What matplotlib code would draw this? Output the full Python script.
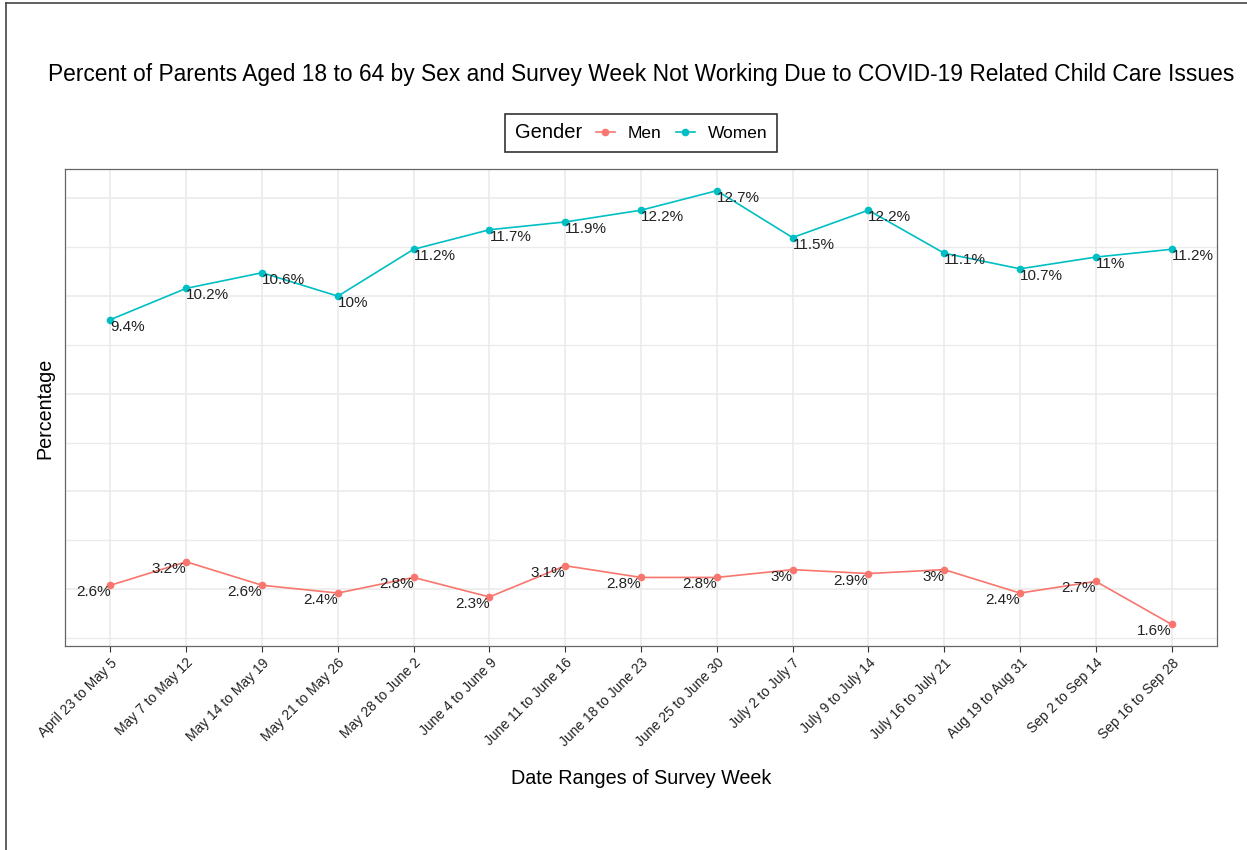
import matplotlib
matplotlib.use("Agg")
import matplotlib.pyplot as plt
from matplotlib.lines import Line2D

plt.rcParams["font.family"] = ["Liberation Sans", "DejaVu Sans"]

WEEKS = [
    "April 23 to May 5", "May 7 to May 12", "May 14 to May 19", "May 21 to May 26",
    "May 28 to June 2", "June 4 to June 9", "June 11 to June 16", "June 18 to June 23",
    "June 25 to June 30", "July 2 to July 7", "July 9 to July 14", "July 16 to July 21",
    "Aug 19 to Aug 31", "Sep 2 to Sep 14", "Sep 16 to Sep 28",
]
MEN = [2.6, 3.2, 2.6, 2.4, 2.8, 2.3, 3.1, 2.8, 2.8, 3.0, 2.9, 3.0, 2.4, 2.7, 1.6]
WOMEN = [9.4, 10.2, 10.6, 10.0, 11.2, 11.7, 11.9, 12.2, 12.7, 11.5, 12.2, 11.1, 10.7, 11.0, 11.2]
MAJOR_BREAKS = [2.5, 5.0, 7.5, 10.0, 12.5]
MINOR_BREAKS = [1.25, 3.75, 6.25, 8.75, 11.25]

MEN_COLOR = "#F8766D"
WOMEN_COLOR = "#00BFC4"


def pct_label(value: float) -> str:
    return f"{value:g}%"


def main() -> None:
    fig = plt.figure(figsize=(12.47, 8.5), dpi=100)
    ax = fig.add_axes([65 / 1247, 1 - 646 / 850, 1152 / 1247, 477 / 850])

    x = list(range(len(WEEKS)))
    ax.plot(x, MEN, color=MEN_COLOR, linewidth=1.2, marker="o", markersize=4.5, label="Men", zorder=3)
    ax.plot(x, WOMEN, color=WOMEN_COLOR, linewidth=1.2, marker="o", markersize=4.5, label="Women", zorder=3)

    for xi, value in zip(x, MEN):
        ax.text(xi, value, pct_label(value), ha="right", va="top", fontsize=11, color="#222222", zorder=4)
    for xi, value in zip(x, WOMEN):
        ax.text(xi, value, pct_label(value), ha="left", va="top", fontsize=11, color="#222222", zorder=4)

    low, high = min(MEN + WOMEN), max(MEN + WOMEN)
    pad = (high - low) * 0.05
    ax.set_ylim(low - pad, high + pad)
    ax.set_xlim(-0.6, len(WEEKS) - 0.4)

    ax.set_yticks(MAJOR_BREAKS)
    ax.set_yticks(MINOR_BREAKS, minor=True)
    ax.set_xticks(x)
    ax.set_xticklabels(WEEKS, rotation=45, ha="right", va="top", rotation_mode="anchor", fontsize=10, color="#222222")
    ax.tick_params(axis="y", which="both", length=0, labelleft=False)
    ax.tick_params(axis="x", length=4, width=0.8, color="#333333", pad=3)

    ax.grid(which="major", color="#EBEBEB", linewidth=1.2, zorder=0)
    ax.grid(which="minor", axis="y", color="#EBEBEB", linewidth=1.0, zorder=0)
    ax.set_axisbelow(True)
    for spine in ax.spines.values():
        spine.set_color("#666666")
        spine.set_linewidth(0.9)

    ax.set_title(
        "Percent of Parents Aged 18 to 64 by Sex and Survey Week Not Working Due to COVID-19 Related Child Care Issues",
        fontsize=16.4, pad=63,
    )
    fig.text(641 / 1247, 1 - 778 / 850, "Date Ranges of Survey Week", ha="center", va="center", fontsize=14.2)
    fig.text(45 / 1247, 1 - 408 / 850, "Percentage", ha="center", va="center", rotation=90, fontsize=14.2)

    leg = fig.legend(
        loc="center", bbox_to_anchor=(641 / 1247, 1 - 133 / 850), ncol=2, title="Gender",
        fontsize=12.5, title_fontsize=14.5, frameon=True, fancybox=False, edgecolor="black",
        handlelength=1.1, handletextpad=0.75, columnspacing=0.8, borderpad=0.55, borderaxespad=0,
    )
    leg.get_frame().set_linewidth(1.2)
    # put the legend title to the left of the keys, as ggplot does
    box = leg.get_children()[0]
    title_box, keys_box = box.get_children()[0], box.get_children()[1]
    box._children = [keys_box]
    keys_box._children = [title_box] + keys_box.get_children()
    keys_box.sep = 10

    fig.add_artist(Line2D([6 / 1247, 6 / 1247], [0, 1 - 3 / 850], color="#444444", linewidth=1.2))
    fig.add_artist(Line2D([6 / 1247, 1], [1 - 3 / 850, 1 - 3 / 850], color="#444444", linewidth=1.2))

    fig.savefig("out.png", dpi=100)


if __name__ == "__main__":
    main()
